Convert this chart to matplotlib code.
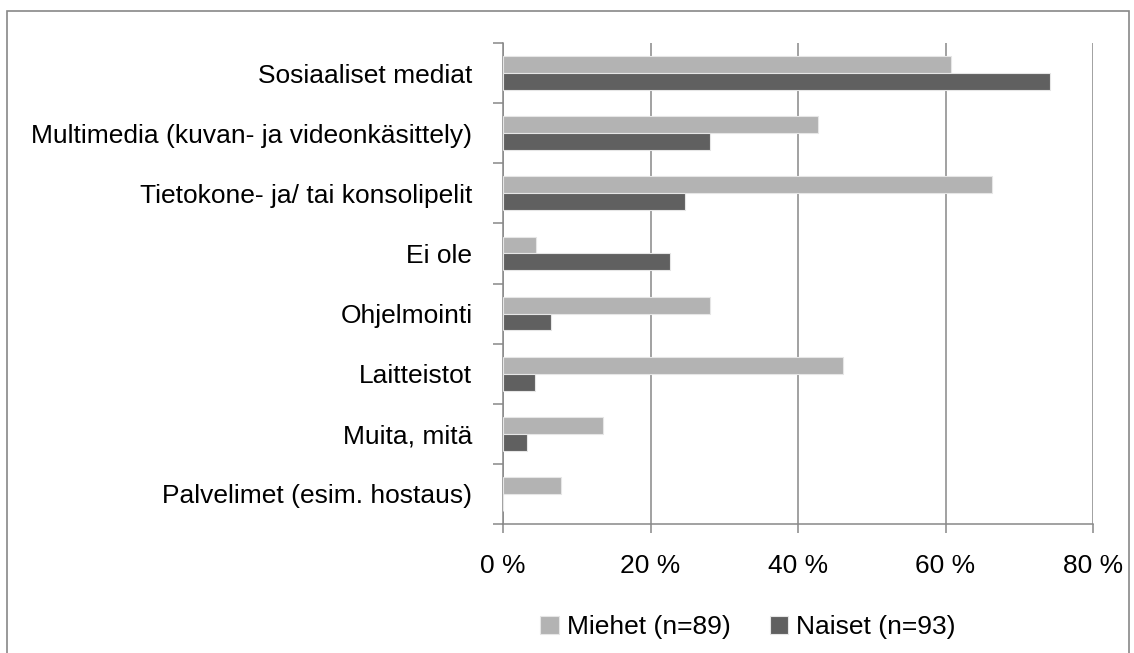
import numpy as np
import matplotlib
matplotlib.use('Agg')
import matplotlib.pyplot as plt
from matplotlib.patches import Rectangle
from matplotlib.ticker import FuncFormatter

plt.rcParams['font.family'] = ['Liberation Sans Narrow', 'Liberation Sans', 'DejaVu Sans']

# data (%)
categories = ['Sosiaaliset mediat',
              'Multimedia (kuvan- ja videonkäsittely)',
              'Tietokone- ja/ tai konsolipelit',
              'Ei ole',
              'Ohjelmointi',
              'Laitteistot',
              'Muita, mitä',
              'Palvelimet (esim. hostaus)']
miehet = [60.7, 42.7, 66.3, 4.5, 28.1, 46.1, 13.5, 7.9]
naiset = [74.2, 28.0, 24.7, 22.6, 6.5, 4.3, 3.2, 0.0]
labels = ['Miehet (n=89)', 'Naiset (n=93)']

c_m = '#b3b3b3'
c_n = '#606060'
grey = '#888888'

fig = plt.figure(figsize=(11.34, 6.53), dpi=100)
ax = fig.add_axes([503/1134, 1 - 524/653, 590/1134, 481/653])

y = np.arange(len(categories))
h = 0.28
ax.barh(y - h/2, miehet, height=h, color=c_m, edgecolor='#e6e6e6', linewidth=0.8, label=labels[0], zorder=3)
ax.barh(y + h/2, naiset, height=h, color=c_n, edgecolor='#e6e6e6', linewidth=0.8, label=labels[1], zorder=3)

ax.set_ylim(len(categories) - 0.5, -0.5)
ax.set_xlim(0, 80)
ax.set_xticks([0, 20, 40, 60, 80])
ax.xaxis.set_major_formatter(FuncFormatter(lambda v, p: '%d %%' % v))
ax.set_yticks(y)
ax.set_yticklabels(categories)
ax.set_yticks(np.arange(-0.5, len(categories)), minor=True)

ax.grid(axis='x', color=grey, linewidth=1.1, zorder=0)
for s in ['top', 'right']:
    ax.spines[s].set_visible(False)
for s in ['left', 'bottom']:
    ax.spines[s].set_color(grey)
    ax.spines[s].set_linewidth(1.1)

ax.tick_params(axis='y', which='major', length=0, pad=22, labelsize=19)
ax.tick_params(axis='y', which='minor', length=7.2, width=1.1, color=grey, direction='out')
ax.tick_params(axis='x', length=6.5, width=1.1, color=grey, direction='out', pad=15, labelsize=19)

fig.legend(loc='center', bbox_to_anchor=(748/1134, 1 - 627/653), ncol=2, frameon=False,
           fontsize=19, handlelength=0.7, handleheight=0.7, handletextpad=0.3, columnspacing=1.5)

fig.patches.append(Rectangle((7/1134, -0.02), 1122/1134, 1.02 - 11/653, transform=fig.transFigure,
                             fill=False, edgecolor=grey, linewidth=1.2))

fig.savefig('out.png', dpi=100)
